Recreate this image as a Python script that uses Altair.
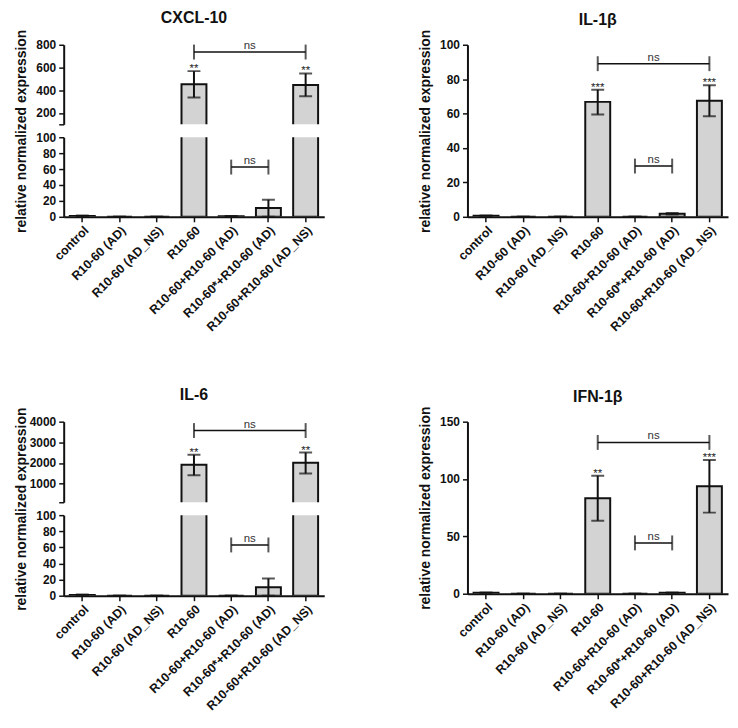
import altair as alt
import pandas as pd

categories = ["control", "R10-60 (AD)", "R10-60 (AD_NS)", "R10-60",
              "R10-60+R10-60 (AD)", "R10-60*+R10-60 (AD)", "R10-60+R10-60 (AD_NS)"]
positions = [0, 1, 2, 3, 4, 5, 6]

# CXCL-10
cxcl_mean = [1.0, 0.0, 0.0, 452, 0.8, 11, 447]
cxcl_low = [0.5, 0.0, 0.0, 336, 0.5, 0.0, 348]
cxcl_high = [1.5, 0.0, 0.0, 568, 1.0, 21.5, 548]
cxcl_stars = ["", "", "", "**", "", "", "**"]
cxcl_br_left = [3, 4]
cxcl_br_right = [6, 5]
cxcl_br_y = [736, 62.5]

# IL-1beta
il1b_mean = [0.6, 0.0, 0.0, 66.8, 0.0, 1.8, 67.5]
il1b_low = [0.4, 0.0, 0.0, 59.5, 0.0, 1.4, 58.5]
il1b_high = [0.8, 0.0, 0.0, 73.9, 0.0, 2.2, 76.4]
il1b_stars = ["", "", "", "***", "", "", "***"]
il1b_br_left = [3, 4]
il1b_br_right = [6, 5]
il1b_br_y = [89, 29.5]

# IL-6
il6_mean = [1.0, 0.0, 0.0, 1920, 0.0, 10.5, 2015]
il6_low = [0.5, 0.0, 0.0, 1410, 0.0, 0.0, 1490]
il6_high = [1.5, 0.0, 0.0, 2395, 0.0, 21.5, 2505]
il6_stars = ["", "", "", "**", "", "", "**"]
il6_br_left = [3, 4]
il6_br_right = [6, 5]
il6_br_y = [3570, 63]

# IFN-1beta
ifn_mean = [0.8, 0.0, 0.0, 83.2, 0.0, 0.8, 93.6]
ifn_low = [0.5, 0.0, 0.0, 63.7, 0.0, 0.5, 70.7]
ifn_high = [1.1, 0.0, 0.0, 102.9, 0.0, 1.1, 116.5]
ifn_stars = ["", "", "", "**", "", "", "***"]
ifn_br_left = [3, 4]
ifn_br_right = [6, 5]
ifn_br_y = [131.9, 44.3]

FONT = "Liberation Sans"
FILL = "#d3d3d3"
INK = "#111111"
YTITLE = "relative normalized expression"
W = 262


def bars_df(mean, low, high, stars):
    return pd.DataFrame({"category": categories, "mean": mean, "low": low,
                         "high": high, "stars": stars})


def br_df(left, right, yv, dom):
    rows = []
    for l, r, y in zip(left, right, yv):
        if dom[0] <= y <= dom[1]:
            rows.append({"left": l, "right": r, "mid": (l + r) / 2, "y": y, "t": "ns"})
    return pd.DataFrame(rows, columns=["left", "right", "mid", "y", "t"])


def segment(df, bdf, dom, ticks, h, show_x, ytitle_y=None, hide_first=False,
            title=None, title_offset=10):
    xscale = alt.Scale(domain=categories, paddingInner=0.33, paddingOuter=0.165)
    if show_x:
        xaxis = alt.Axis(labelAngle=-45, labelAlign="right", labelBaseline="top",
                         labelPadding=2, title=None, labelOverlap=False,
                         labelFontSize=12.5, labelFont=FONT, labelFontWeight="bold",
                         labelLimit=300)
    else:
        xaxis = None
    yscale = alt.Scale(domain=dom, nice=False, zero=False)
    yaxis_kw = dict(values=ticks, tickCount=20, labelPadding=3, format="d",
                    labelOverlap=False)
    if hide_first:
        yaxis_kw["labelExpr"] = "datum.value == %s ? '' : datum.label" % ticks[0]
    if ytitle_y is not None:
        yaxis_kw.update(title=YTITLE, titleX=-35, titleY=ytitle_y, titleAngle=-90,
                        titleAlign="center", titleBaseline="bottom")
    else:
        yaxis_kw["title"] = None
    base = alt.Chart(df)
    xenc = alt.X("category:N", scale=xscale, axis=xaxis)
    xplain = alt.X("category:N", scale=xscale, axis=xaxis)
    bars = base.mark_bar(fill=FILL, stroke=INK, strokeWidth=2, clip=True).encode(
        x=xenc,
        y=alt.Y("mean:Q", scale=yscale, axis=alt.Axis(**yaxis_kw)),
        y2=alt.datum(0),
    )
    err = base.mark_rule(stroke=INK, strokeWidth=2, clip=True).encode(
        x=xplain, y="low:Q", y2="high:Q")
    cap_hi = base.mark_tick(color=INK, size=13, thickness=2, clip=True).encode(
        x=xplain, y="high:Q")
    cap_lo = base.mark_tick(color=INK, size=13, thickness=2, clip=True).encode(
        x=xplain, y="low:Q")
    sdf = df[(df["stars"] != "") & (df["high"] >= dom[0]) & (df["high"] <= dom[1])]
    stars = alt.Chart(sdf).mark_text(font=FONT, fontSize=11.5, color="#222222",
                                     baseline="alphabetic", dy=1).encode(
        x=xplain, y="high:Q", text="stars:N")
    band_layer = alt.layer(bars, err, cap_hi, cap_lo, stars)

    xq = alt.Scale(domain=[-0.5, 6.5], nice=False, zero=False)
    bb = alt.Chart(bdf)
    line = bb.mark_rule(stroke=INK, strokeWidth=1.5).encode(
        x=alt.X("left:Q", scale=xq, axis=None), x2="right:Q", y="y:Q")
    endl = bb.mark_tick(orient="vertical", color=INK, size=15, thickness=2).encode(
        x=alt.X("left:Q", scale=xq, axis=None), y="y:Q")
    endr = bb.mark_tick(orient="vertical", color=INK, size=15, thickness=2).encode(
        x=alt.X("right:Q", scale=xq, axis=None), y="y:Q")
    txt = bb.mark_text(font=FONT, fontSize=11.5, color="#333333", baseline="alphabetic",
                       dy=-3).encode(
        x=alt.X("mid:Q", scale=xq, axis=None), y="y:Q", text="t:N")
    ann_layer = alt.layer(line, endl, endr, txt)

    ch = alt.layer(band_layer, ann_layer).resolve_scale(x="independent")
    props = dict(width=W, height=h)
    if title is not None:
        props["title"] = alt.TitleParams(title, fontSize=16, fontWeight="bold", font=FONT,
                                         color=INK, frame="group", offset=title_offset)
    return ch.properties(**props)


def broken_panel(title, mean, low, high, stars, bl, brr, by, upper_dom, upper_ticks,
                 h_up=80, gap=13, h_lo=80):
    df = bars_df(mean, low, high, stars)
    up = segment(df, br_df(bl, brr, by, upper_dom), upper_dom, upper_ticks, h_up,
                 False, hide_first=True, title=title, title_offset=13)
    lo_dom = [0, 100]
    lo = segment(df, br_df(bl, brr, by, lo_dom), lo_dom, [0, 20, 40, 60, 80, 100], h_lo,
                 True, ytitle_y=(h_up + gap + h_lo) / 2 - (h_up + gap))
    return alt.vconcat(up, lo, spacing=gap, bounds="flush")


def plain_panel(title, mean, low, high, stars, bl, brr, by, dom, ticks):
    df = bars_df(mean, low, high, stars)
    h = 173
    return segment(df, br_df(bl, brr, by, dom), dom, ticks, h, True,
                   ytitle_y=h / 2, title=title, title_offset=1)


p1 = broken_panel("CXCL-10", cxcl_mean, cxcl_low, cxcl_high, cxcl_stars,
                  cxcl_br_left, cxcl_br_right, cxcl_br_y, [100, 800], [100, 200, 400, 600, 800])
p2 = plain_panel("IL-1β", il1b_mean, il1b_low, il1b_high, il1b_stars,
                 il1b_br_left, il1b_br_right, il1b_br_y, [0, 100], [0, 20, 40, 60, 80, 100])
p3 = broken_panel("IL-6", il6_mean, il6_low, il6_high, il6_stars,
                  il6_br_left, il6_br_right, il6_br_y, [100, 4000], [100, 1000, 2000, 3000, 4000],
                  h_up=81, gap=13, h_lo=81)
p4 = plain_panel("IFN-1β", ifn_mean, ifn_low, ifn_high, ifn_stars,
                 ifn_br_left, ifn_br_right, ifn_br_y, [0, 150], [0, 50, 100, 150])

row1 = alt.hconcat(p1, p2, spacing=94)
row2 = alt.hconcat(p3, p4, spacing=94)

chart = alt.vconcat(row1, row2, spacing=53).properties(
    padding={"left": 6, "top": 0, "right": 2, "bottom": 2}
).configure_view(stroke=None).configure_axis(
    labelFont=FONT, titleFont=FONT, labelFontSize=12, labelFontWeight="bold",
    titleFontSize=14, titleFontWeight="bold", labelColor=INK, titleColor=INK,
    domainColor=INK, tickColor=INK, domainWidth=2, tickWidth=1.5, tickSize=5, grid=False
)

chart.save("out.html", embed_options={"renderer": "svg", "actions": False})
